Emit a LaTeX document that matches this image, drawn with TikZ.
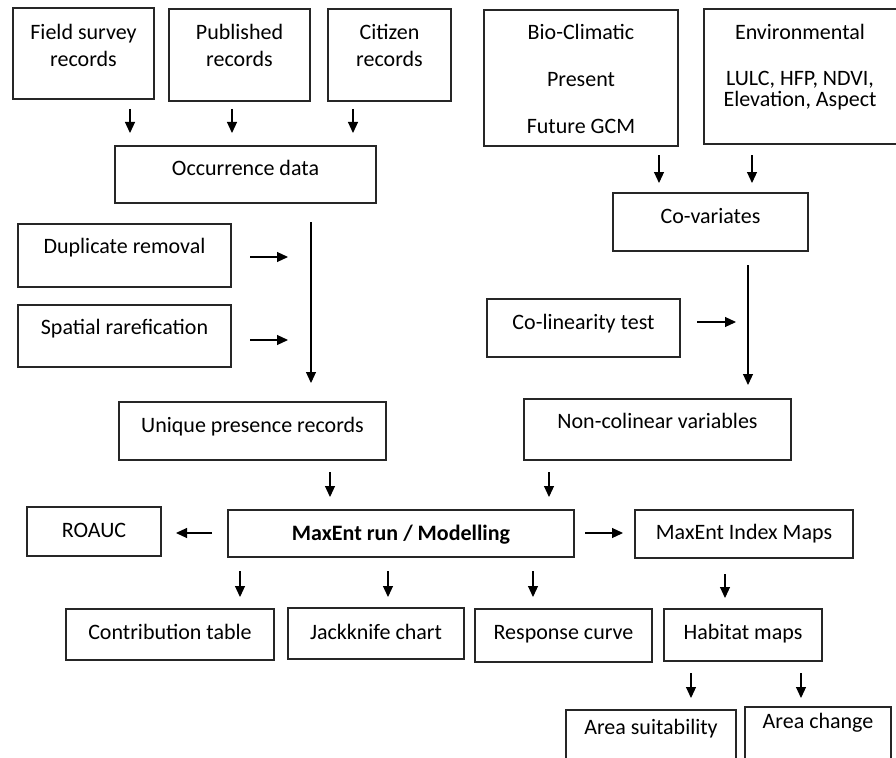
\documentclass[tikz,border=0pt]{standalone}
\usepackage{fontspec}
\setmainfont{Carlito}
\usetikzlibrary{arrows.meta,fit}
\begin{document}
\begin{tikzpicture}[x=1pt,y=-1pt,
  box/.style={draw=black!85,line width=1.3pt,inner sep=0pt,rectangle},
  txt/.style={anchor=base,inner sep=0pt,font=\fontsize{22}{26}\selectfont},
  arr/.style={line width=1.1pt,-{Triangle[length=11pt,width=10pt]}}]
\useasboundingbox (0,0) rectangle (896,757);
\clip (0,0) rectangle (896,757);
% boxes
\node[box,fit={(13,8) (154,99)}] (fs) {};
\node[box,fit={(169,9) (310,101)}] (pub) {};
\node[box,fit={(328,9) (451,101)}] (cit) {};
\node[box,fit={(115,146) (376,203)}] (occ) {};
\node[box,fit={(484,10) (678,146)}] (bio) {};
\node[box,fit={(704,9) (910,144)}] (env) {};
\node[box,fit={(613,193) (808,251)}] (cov) {};
\node[box,fit={(18,224) (231,287)}] (dup) {};
\node[box,fit={(18,305) (231,367)}] (spa) {};
\node[box,fit={(487,299) (680,357)}] (col) {};
\node[box,fit={(119,402) (386,460)}] (uni) {};
\node[box,fit={(524,399) (791,460)}] (non) {};
\node[box,fit={(27,507) (161,556)}] (roc) {};
\node[box,fit={(228,510) (574,557)}] (max) {};
\node[box,fit={(635,510) (853,558)}] (idx) {};
\node[box,fit={(66,609) (274,660)}] (con) {};
\node[box,fit={(288,608) (464,659)}] (jack) {};
\node[box,fit={(475,609) (652,662)}] (resp) {};
\node[box,fit={(664,609) (822,661)}] (hab) {};
\node[box,fit={(566,710) (736,780)}] (suit) {};
\node[box,fit={(745,707) (891,780)}] (chg) {};
% texts
\node[txt] (fs1) at (83.5,40) {Field survey};
\node[txt] (fs2) at (83.5,67) {records};
\node[txt] (pub1) at (239.5,40) {Published};
\node[txt] (pub2) at (239.5,67) {records};
\node[txt] (cit1) at (389.5,40) {Citizen};
\node[txt] (cit2) at (389.5,67) {records};
\node[txt] (occt) at (245.5,175) {Occurrence data};
\node[txt] (bio1) at (581,40) {Bio-Climatic};
\node[txt] (bio2) at (581,87) {Present};
\node[txt] (bio3) at (581,133) {Future GCM};
\node[txt] (env1) at (800,40) {Environmental};
\node[txt] (env2) at (800,86) {LULC, HFP, NDVI,};
\node[txt] (env3) at (800,106.5) {Elevation, Aspect};
\node[txt] (covt) at (710.5,223) {Co-variates};
\node[txt] (dupt) at (124.5,253) {Duplicate removal};
\node[txt] (spat) at (124.5,334) {Spatial rarefication};
\node[txt] (colt) at (583.5,329) {Co-linearity test};
\node[txt] (unit) at (252.5,432) {Unique presence records};
\node[txt] (nont) at (657.5,428) {Non-colinear variables};
\node[txt] (roct) at (94,537) {ROAUC};
\node[txt,font=\fontsize{22}{26}\selectfont\bfseries] (maxt) at (401,540) {MaxEnt run / Modelling};
\node[txt] (idxt) at (744,539) {MaxEnt Index Maps};
\node[txt] (cont) at (170,639) {Contribution table};
\node[txt] (jackt) at (376,639) {Jackknife chart};
\node[txt] (respt) at (563.5,639) {Response curve};
\node[txt] (habt) at (743,639) {Habitat maps};
\node[txt] (suitt) at (651,734) {Area suitability};
\node[txt] (chgt) at (818,728) {Area change};
% arrow ends
\coordinate (a1s) at (130,109);  \coordinate (a1e) at (130,133);
\coordinate (a2s) at (232,109);  \coordinate (a2e) at (232,133);
\coordinate (a3s) at (353,109);  \coordinate (a3e) at (353,133);
\coordinate (a4s) at (659,155);  \coordinate (a4e) at (659,183);
\coordinate (a5s) at (752,155);  \coordinate (a5e) at (752,183);
\coordinate (a6s) at (311,222);  \coordinate (a6e) at (311,383);
\coordinate (a7s) at (250,257);  \coordinate (a7e) at (288,257);
\coordinate (a8s) at (250,340);  \coordinate (a8e) at (288,340);
\coordinate (a9s) at (748,265);  \coordinate (a9e) at (748,385);
\coordinate (a10s) at (697,322); \coordinate (a10e) at (736,322);
\coordinate (a11s) at (330,472); \coordinate (a11e) at (330,497);
\coordinate (a12s) at (549,472); \coordinate (a12e) at (549,497);
\coordinate (a13s) at (212,533); \coordinate (a13e) at (176,533);
\coordinate (a14s) at (585,533); \coordinate (a14e) at (623,533);
\coordinate (a15s) at (240,571); \coordinate (a15e) at (240,597);
\coordinate (a16s) at (388,571); \coordinate (a16e) at (388,597);
\coordinate (a17s) at (533,571); \coordinate (a17e) at (533,597);
\coordinate (a18s) at (725,574); \coordinate (a18e) at (725,598);
\coordinate (a19s) at (691,673); \coordinate (a19e) at (691,698);
\coordinate (a20s) at (801,673); \coordinate (a20e) at (801,698);
\foreach \i in {1,...,20} {\draw[arr] (a\i s) -- (a\i e);}
\end{tikzpicture}
\end{document}
